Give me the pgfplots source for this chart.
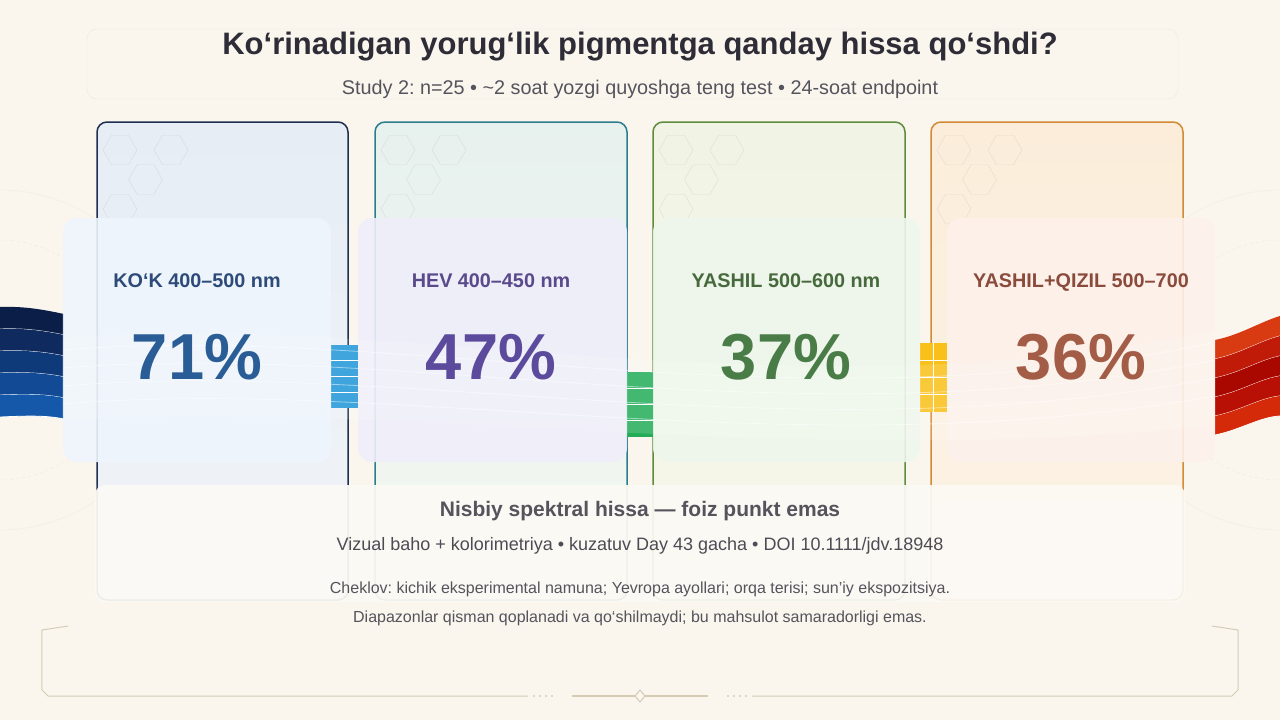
\documentclass[border=0pt]{standalone}
\usepackage{pgfplots}
\pgfplotsset{compat=1.18}
\usepackage{fontspec}
\setmainfont{Liberation Sans}
\frenchspacing
\definecolor{bg}{HTML}{FAF6EE}
\definecolor{ttl}{HTML}{2E2C36}
\definecolor{sub}{HTML}{55535C}
\definecolor{bA}{HTML}{1E2F52}
\definecolor{bB}{HTML}{2A7D8E}
\definecolor{bC}{HTML}{5E8C3C}
\definecolor{bD}{HTML}{D38A34}
\definecolor{pA}{HTML}{EEF5FC}
\definecolor{pB}{HTML}{EFEEFB}
\definecolor{pC}{HTML}{EEF6EC}
\definecolor{pD}{HTML}{FDF1EB}
\definecolor{lA}{HTML}{2D4A78}
\definecolor{lB}{HTML}{5A4A8C}
\definecolor{lC}{HTML}{466A3C}
\definecolor{lD}{HTML}{8A4A3C}
\definecolor{nA}{HTML}{2A5C96}
\definecolor{nB}{HTML}{5C4A9C}
\definecolor{nC}{HTML}{4A7C48}
\definecolor{nD}{HTML}{A35C46}
\definecolor{frame}{HTML}{D6CCB4}
\definecolor{cAt}{HTML}{E6EDF5}\definecolor{cAb}{HTML}{F1F4F7}
\definecolor{cBt}{HTML}{E7F1EE}\definecolor{cBb}{HTML}{F3F7F1}
\definecolor{cCt}{HTML}{F1F4E4}\definecolor{cCb}{HTML}{F6F7EA}
\definecolor{cDt}{HTML}{FBEDDA}\definecolor{cDb}{HTML}{FCF3E6}
\definecolor{rA0}{HTML}{0B1E48}\definecolor{rA1}{HTML}{0E2A5E}\definecolor{rA2}{HTML}{0F3A7A}\definecolor{rA3}{HTML}{124A95}\definecolor{rA4}{HTML}{1558AA}
\definecolor{rD0}{HTML}{D83A12}\definecolor{rD1}{HTML}{C01A08}\definecolor{rD2}{HTML}{A80800}\definecolor{rD3}{HTML}{B81004}\definecolor{rD4}{HTML}{D42A0A}
\definecolor{cB}{HTML}{1E96D6}\definecolor{cG}{HTML}{22AC58}\definecolor{cY}{HTML}{F8C018}
\begin{document}
\begin{tikzpicture}
\begin{axis}[name=ax,x=1pt,y=1pt,xmin=0,xmax=1280,ymin=0,ymax=720,y dir=reverse,
  scale only axis,hide axis,clip=false]
% background
\fill[bg] (axis cs:0,0) rectangle (axis cs:1280,720);
\begin{scope}
\clip (axis cs:0,0) rectangle (axis cs:1280,720);
\draw[frame!70,opacity=0.5,dashed] (axis cs:0,360) circle[radius=120pt];
\draw[frame!70,opacity=0.4] (axis cs:0,360) circle[radius=170pt];
\draw[frame!70,opacity=0.5,dashed] (axis cs:1280,360) circle[radius=120pt];
\draw[frame!70,opacity=0.4] (axis cs:1280,360) circle[radius=170pt];
\end{scope}
% title box
\draw[frame!60,opacity=0.6,rounded corners=10pt] (axis cs:87,29) rectangle (axis cs:1178,99);
\node[font=\fontsize{31}{36}\selectfont\bfseries,text=ttl] at (axis cs:640,47) {Ko‘rinadigan yorug‘lik pigmentga qanday hissa qo‘shdi?};
\node[font=\fontsize{19.8}{24}\selectfont,text=sub] at (axis cs:640,89) {Study 2: n=25 • \textasciitilde2 soat yozgi quyoshga teng test • 24-soat endpoint};
% cards
\draw[bA,line width=1.5pt,rounded corners=10pt,top color=cAt,bottom color=cAb] (axis cs:97,122) rectangle (axis cs:348,600);
\draw[bB,line width=1.5pt,rounded corners=10pt,top color=cBt,bottom color=cBb] (axis cs:375,122) rectangle (axis cs:627,600);
\draw[bC,line width=1.5pt,rounded corners=10pt,top color=cCt,bottom color=cCb] (axis cs:653,122) rectangle (axis cs:905,600);
\draw[bD,line width=1.5pt,rounded corners=10pt,top color=cDt,bottom color=cDb] (axis cs:931,122) rectangle (axis cs:1183,600);
% faint hexagons
\pgfplotsinvokeforeach{120,398,676,954}{
  \draw[gray,opacity=0.18] (axis cs:#1,150) ++(17pt,0) -- ++(120:17pt) -- ++(180:17pt) -- ++(240:17pt) -- ++(300:17pt) -- ++(0:17pt) -- cycle;
  \draw[gray,opacity=0.18] (axis cs:#1+51,150) ++(17pt,0) -- ++(120:17pt) -- ++(180:17pt) -- ++(240:17pt) -- ++(300:17pt) -- ++(0:17pt) -- cycle;
  \draw[gray,opacity=0.18] (axis cs:#1+25.5,179.5) ++(17pt,0) -- ++(120:17pt) -- ++(180:17pt) -- ++(240:17pt) -- ++(300:17pt) -- ++(0:17pt) -- cycle;
  \draw[gray,opacity=0.18] (axis cs:#1,209) ++(17pt,0) -- ++(120:17pt) -- ++(180:17pt) -- ++(240:17pt) -- ++(300:17pt) -- ++(0:17pt) -- cycle;
}
% left ribbon
\pgfplotsinvokeforeach{0,1,2,3,4}{
  \fill[rA#1] (axis cs:0,307+#1*22) .. controls (axis cs:25,306+#1*22) and (axis cs:45,310+#1*21) .. (axis cs:64,314+#1*21)
    -- (axis cs:64,335+#1*21) .. controls (axis cs:45,331+#1*21) and (axis cs:25,328+#1*22) .. (axis cs:0,329+#1*22) -- cycle;
  \draw[white,line width=0.8pt] (axis cs:0,329+#1*22) .. controls (axis cs:25,328+#1*22) and (axis cs:45,331+#1*21) .. (axis cs:64,335+#1*21);
}
% right ribbon
\pgfplotsinvokeforeach{0,1,2,3,4}{
  \fill[rD#1] (axis cs:1215,340+#1*19) .. controls (axis cs:1240,335+#1*19) and (axis cs:1260,322+#1*19) .. (axis cs:1280,316+#1*20)
    -- (axis cs:1280,336+#1*20) .. controls (axis cs:1260,341+#1*19) and (axis cs:1240,354+#1*19) .. (axis cs:1215,359+#1*19) -- cycle;
  \draw[white,line width=0.8pt] (axis cs:1215,359+#1*19) .. controls (axis cs:1240,354+#1*19) and (axis cs:1260,341+#1*19) .. (axis cs:1280,336+#1*20);
}
% connectors
\fill[cB] (axis cs:331,345) rectangle (axis cs:358,408);
\fill[cG] (axis cs:627,372) rectangle (axis cs:653,437);
\fill[cY] (axis cs:920,343) rectangle (axis cs:947,412);
\pgfplotsinvokeforeach{1,2,3}{
  \draw[white,line width=0.9pt] (axis cs:331,345+#1*15.75) -- (axis cs:358,345+#1*15.75);
  \draw[white,line width=0.9pt] (axis cs:627,372+#1*16.25) -- (axis cs:653,372+#1*16.25);
  \draw[white,line width=0.9pt] (axis cs:920,343+#1*17.25) -- (axis cs:947,343+#1*17.25);
}
\draw[white,line width=0.9pt] (axis cs:933.5,343) -- (axis cs:933.5,412);
% inner panels
\fill[pA,opacity=0.9,rounded corners=14pt] (axis cs:63,218) rectangle (axis cs:331,462);
\fill[pB,opacity=0.9,rounded corners=14pt] (axis cs:358,218) rectangle (axis cs:627,462);
\fill[pC,opacity=0.9,rounded corners=14pt] (axis cs:653,218) rectangle (axis cs:920,462);
\fill[pD,opacity=0.9,rounded corners=14pt] (axis cs:947,218) rectangle (axis cs:1215,462);
% faint wave
\fill[white,opacity=0.15] (axis cs:63,338) .. controls (axis cs:400,310) and (axis cs:800,420) .. (axis cs:1215,330) -- (axis cs:1215,425) .. controls (axis cs:800,470) and (axis cs:400,400) .. (axis cs:63,420) -- cycle;
\pgfplotsinvokeforeach{0,18,36,54}{
  \draw[white,opacity=0.5,line width=0.8pt] (axis cs:63,350+#1) .. controls (axis cs:400,322+#1) and (axis cs:800,432+#1*0.7) .. (axis cs:1215,342+#1);
}
% labels
\tikzset{lbl/.style={font=\fontsize{19.8}{23}\selectfont\bfseries,anchor=base,text=#1}}
\node[lbl=lA] at (axis cs:197,287) {KO‘K 400–500 nm};
\node[lbl=lB] at (axis cs:491,287) {HEV 400–450 nm};
\node[lbl=lC] at (axis cs:786,287) {YASHIL 500–600 nm};
\node[lbl=lD] at (axis cs:1081,287) {YASHIL+QIZIL 500–700};
% values
\pgfplotsset{pctstyle/.style={draw=none,mark=none,point meta=explicit,
   /pgf/number format/assume math mode=true,
   nodes near coords={\pgfmathprintnumber{\pgfplotspointmeta}\%},
   nodes near coords style={anchor=center,font=\fontsize{65}{70}\selectfont\bfseries,text=#1}}}
\addplot[pctstyle=nA] coordinates {(197,357) [71]};
\addplot[pctstyle=nB] coordinates {(491,357) [47]};
\addplot[pctstyle=nC] coordinates {(786,357) [37]};
\addplot[pctstyle=nD] coordinates {(1081,357) [36]};
% bottom overlay
\fill[bg!60!white,opacity=0.94,rounded corners=10pt] (axis cs:95,485) rectangle (axis cs:1185,602);
\draw[frame!50,opacity=0.5,rounded corners=10pt] (axis cs:97,485) -- (axis cs:97,600) -- (axis cs:348,600) -- (axis cs:348,485);
\draw[frame!50,opacity=0.5,rounded corners=10pt] (axis cs:375,485) -- (axis cs:375,600) -- (axis cs:627,600) -- (axis cs:627,485);
\draw[frame!50,opacity=0.5,rounded corners=10pt] (axis cs:653,485) -- (axis cs:653,600) -- (axis cs:905,600) -- (axis cs:905,485);
\draw[frame!50,opacity=0.5,rounded corners=10pt] (axis cs:931,485) -- (axis cs:931,600) -- (axis cs:1183,600) -- (axis cs:1183,485);
\node[font=\fontsize{21}{25}\selectfont\bfseries,text=sub] at (axis cs:640,511) {Nisbiy spektral hissa — foiz punkt emas};
\node[font=\fontsize{18}{22}\selectfont,text=ttl!85] at (axis cs:640,546) {Vizual baho + kolorimetriya • kuzatuv Day 43 gacha • DOI 10.1111/jdv.18948};
\node[font=\fontsize{16}{20}\selectfont,text=sub] at (axis cs:640,589) {Cheklov: kichik eksperimental namuna; Yevropa ayollari; orqa terisi; sun’iy ekspozitsiya.};
\node[font=\fontsize{16}{20}\selectfont,text=sub] at (axis cs:640,618) {Diapazonlar qisman qoplanadi va qo‘shilmaydi; bu mahsulot samaradorligi emas.};
% bottom frame
\draw[frame,line width=1pt] (axis cs:68,626) -- (axis cs:42,630) -- (axis cs:42,690) -- (axis cs:48,696) -- (axis cs:528,696);
\draw[frame,line width=1pt] (axis cs:1212,626) -- (axis cs:1238,630) -- (axis cs:1238,690) -- (axis cs:1232,696) -- (axis cs:752,696);
\draw[frame,line width=1.5pt] (axis cs:572,696) -- (axis cs:708,696);
\draw[frame,fill=bg,line width=1pt] (axis cs:640,690) -- (axis cs:645,696) -- (axis cs:640,702) -- (axis cs:635,696) -- cycle;
\pgfplotsinvokeforeach{534,540,546,552,728,734,740,746}{
  \fill[frame] (axis cs:#1,696) circle[radius=1.2pt];
}
\end{axis}
\pgfresetboundingbox
\path[use as bounding box] (ax.south west) rectangle (ax.north east);
\end{tikzpicture}
\end{document}
